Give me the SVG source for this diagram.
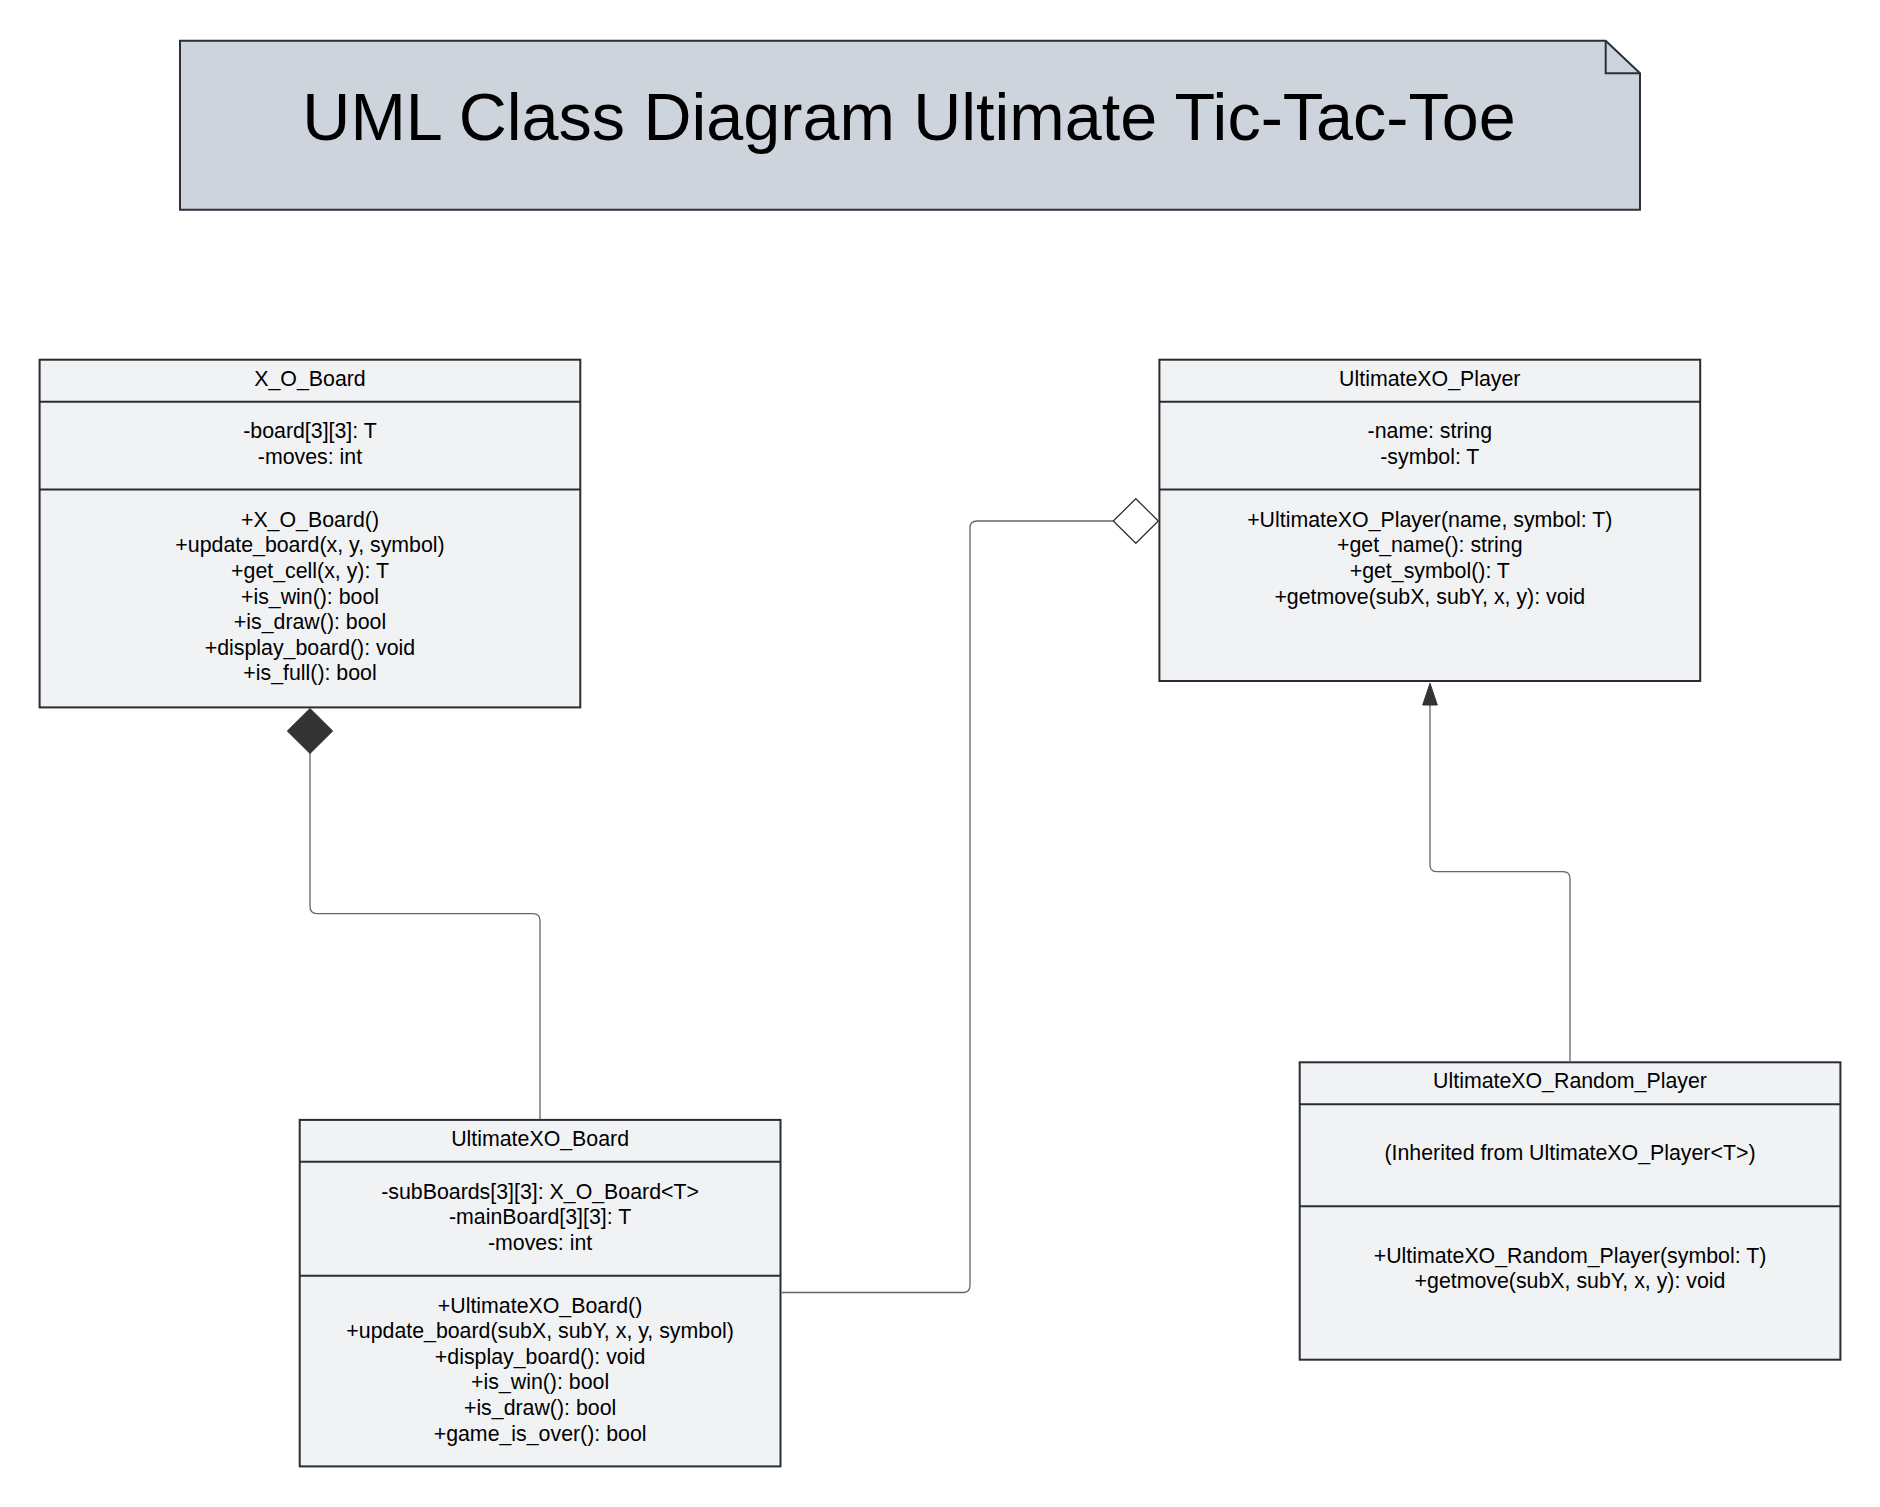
<svg xmlns="http://www.w3.org/2000/svg" width="1880" height="1507" viewBox="0 0 1880 1507">
<style>
  .box { fill: #f1f2f4; stroke: #282c33; stroke-width: 2; }
  .sep { stroke: #282c33; stroke-width: 2; }
  .t { font-family: "Liberation Sans", Arial, sans-serif; font-size: 21.33px; fill: #000; text-anchor: middle; }
  .title { font-family: "Liberation Sans", Arial, sans-serif; font-size: 66.5px; fill: #000; text-anchor: middle; }
  .conn { fill: none; stroke: #666; stroke-width: 1.3; }
</style>
<rect width="1880" height="1507" fill="#ffffff"/>

<g id="title-note">
  <path d="M180 40.7 H1605.7 L1640 73.3 V209.8 H180 Z" fill="#ced4dc" stroke="#2c3038" stroke-width="2"/>
  <path d="M1605.7 40.7 V73.3 H1640" fill="none" stroke="#2c3038" stroke-width="2"/>
  <text class="title" x="909" y="139.5">UML Class Diagram Ultimate Tic-Tac-Toe</text>
</g>

<g id="X_O_Board">
  <rect class="box" x="39.6" y="359.7" width="540.7" height="347.7"/>
  <line class="sep" x1="39.6" y1="401.7" x2="580.3" y2="401.7"/>
  <line class="sep" x1="39.6" y1="489.6" x2="580.3" y2="489.6"/>
  <text class="t" x="310" y="386">X_O_Board</text>
  <text class="t" x="310" y="438.3">-board[3][3]: T</text>
  <text class="t" x="310" y="463.9">-moves: int</text>
  <text class="t" x="310" y="526.7">+X_O_Board()</text>
  <text class="t" x="310" y="552.3">+update_board(x, y, symbol)</text>
  <text class="t" x="310" y="577.9">+get_cell(x, y): T</text>
  <text class="t" x="310" y="603.5">+is_win(): bool</text>
  <text class="t" x="310" y="629.1">+is_draw(): bool</text>
  <text class="t" x="310" y="654.7">+display_board(): void</text>
  <text class="t" x="310" y="680.3">+is_full(): bool</text>
</g>

<g id="UltimateXO_Player">
  <rect class="box" x="1159.4" y="359.7" width="540.8" height="321.3"/>
  <line class="sep" x1="1159.4" y1="401.7" x2="1700.2" y2="401.7"/>
  <line class="sep" x1="1159.4" y1="489.6" x2="1700.2" y2="489.6"/>
  <text class="t" x="1429.8" y="386">UltimateXO_Player</text>
  <text class="t" x="1429.8" y="438.3">-name: string</text>
  <text class="t" x="1429.8" y="463.9">-symbol: T</text>
  <text class="t" x="1429.8" y="526.7">+UltimateXO_Player(name, symbol: T)</text>
  <text class="t" x="1429.8" y="552.3">+get_name(): string</text>
  <text class="t" x="1429.8" y="577.9">+get_symbol(): T</text>
  <text class="t" x="1429.8" y="603.5">+getmove(subX, subY, x, y): void</text>
</g>

<g id="UltimateXO_Board">
  <rect class="box" x="299.7" y="1119.9" width="480.8" height="346.5"/>
  <line class="sep" x1="299.7" y1="1161.8" x2="780.5" y2="1161.8"/>
  <line class="sep" x1="299.7" y1="1275.7" x2="780.5" y2="1275.7"/>
  <text class="t" x="540.1" y="1146">UltimateXO_Board</text>
  <text class="t" x="540.1" y="1198.5">-subBoards[3][3]: X_O_Board&lt;T&gt;</text>
  <text class="t" x="540.1" y="1224.1">-mainBoard[3][3]: T</text>
  <text class="t" x="540.1" y="1249.7">-moves: int</text>
  <text class="t" x="540.1" y="1312.5">+UltimateXO_Board()</text>
  <text class="t" x="540.1" y="1338.1">+update_board(subX, subY, x, y, symbol)</text>
  <text class="t" x="540.1" y="1363.7">+display_board(): void</text>
  <text class="t" x="540.1" y="1389.3">+is_win(): bool</text>
  <text class="t" x="540.1" y="1414.9">+is_draw(): bool</text>
  <text class="t" x="540.1" y="1440.5">+game_is_over(): bool</text>
</g>

<g id="UltimateXO_Random_Player">
  <rect class="box" x="1299.7" y="1062.3" width="540.7" height="297.4"/>
  <line class="sep" x1="1299.7" y1="1104.3" x2="1840.4" y2="1104.3"/>
  <line class="sep" x1="1299.7" y1="1206.2" x2="1840.4" y2="1206.2"/>
  <text class="t" x="1570" y="1087.5">UltimateXO_Random_Player</text>
  <text class="t" x="1570" y="1160">(Inherited from UltimateXO_Player&lt;T&gt;)</text>
  <text class="t" x="1570" y="1262.8">+UltimateXO_Random_Player(symbol: T)</text>
  <text class="t" x="1570" y="1288.4">+getmove(subX, subY, x, y): void</text>
</g>

<g id="connectors">
  <path class="conn" d="M310 753 V906.6 Q310 913.6 317 913.6 H533 Q540 913.6 540 920.6 V1119"/>
  <polygon points="310,708.5 332.7,731 310,753.5 287.3,731" fill="#333333" stroke="#333333" stroke-width="1"/>
  <path class="conn" d="M781.5 1292.5 H963 Q970 1292.5 970 1285.5 V528 Q970 521 977 521 H1113.3"/>
  <polygon points="1113.3,521 1135.8,498.7 1158.3,521 1135.8,543.3" fill="#ffffff" stroke="#333333" stroke-width="1.3"/>
  <path class="conn" d="M1570 1061.3 V878.7 Q1570 871.7 1563 871.7 H1437 Q1430 871.7 1430 864.7 V704"/>
  <polygon points="1430,683.3 1437.3,705 1422.7,705" fill="#333333" stroke="#333333" stroke-width="1"/>
</g>
</svg>
